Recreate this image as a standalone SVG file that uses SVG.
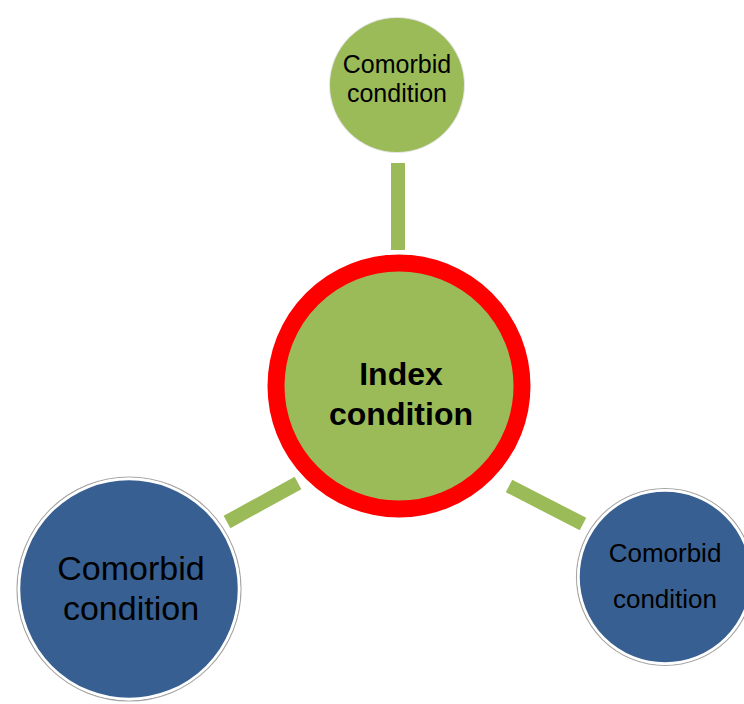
<svg xmlns="http://www.w3.org/2000/svg" width="744" height="704" viewBox="0 0 744 704">
<style>
.bar{stroke:#9BBB59;stroke-width:14;fill:none}
.green{fill:#9BBB59}
.blue{fill:#375F91;stroke:#ffffff;stroke-width:2.5}
.rim{fill:none;stroke:#a6a6a6;stroke-width:1.2}
.t{font-family:"Liberation Sans",Arial,sans-serif;fill:#000;text-anchor:middle}
.b{font-weight:bold}
</style>
<rect width="744" height="704" fill="#ffffff"/>
<g id="connectors">
<line class="bar" x1="398" y1="163" x2="398" y2="250"/>
<line class="bar" x1="227" y1="522" x2="298" y2="483"/>
<line class="bar" x1="509" y1="486" x2="583" y2="524"/>
</g>
<g id="top">
<circle cx="397" cy="85" r="68" fill="#c9c9c9" opacity="0.5"/>
<circle class="green" cx="397" cy="85" r="67"/>
<text class="t" x="397" y="73" font-size="25">Comorbid</text>
<text class="t" x="397" y="102" font-size="25">condition</text>
</g>
<g id="index">
<circle cx="399" cy="386" r="123" fill="#9BBB59" stroke="#FF0000" stroke-width="17"/>
<text class="t b" x="401" y="385" font-size="32">Index</text>
<text class="t b" x="401" y="425" font-size="32">condition</text>
</g>
<g id="left">
<circle class="rim" cx="129" cy="589" r="112"/>
<circle class="blue" cx="129" cy="589" r="110"/>
<text class="t" x="131" y="580" font-size="34">Comorbid</text>
<text class="t" x="131" y="620" font-size="34">condition</text>
</g>
<g id="right">
<circle class="rim" cx="665" cy="577" r="88.5"/>
<circle class="blue" cx="665" cy="577" r="86.5"/>
<text class="t" x="665" y="562" font-size="26">Comorbid</text>
<text class="t" x="665" y="608" font-size="26">condition</text>
</g>
</svg>
